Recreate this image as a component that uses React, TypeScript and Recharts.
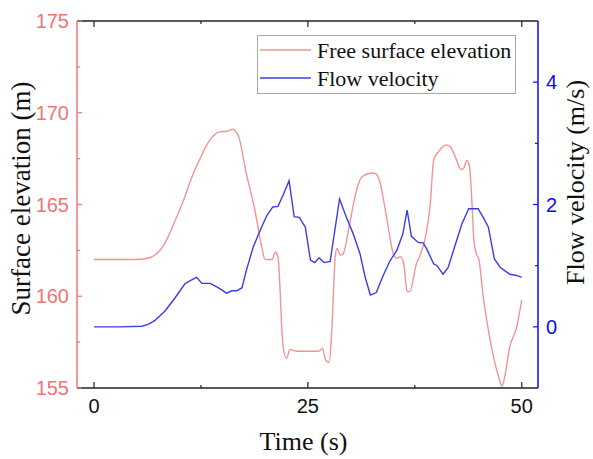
import { LineChart, Line, XAxis, YAxis, Legend, Label } from 'recharts'

const elevTime = [
  0, 2, 4, 5.5, 6.5, 7.5, 8.3, 9.5, 10.6, 11.2, 11.8, 12.4, 13.0, 13.6, 14.2, 14.8, 15.5, 16.2, 16.9,
  17.8, 18.8, 19.6, 20.0, 20.8, 21.2, 21.5, 22.1, 22.5, 22.9, 23.7, 26.2, 26.7, 27.1, 27.5, 27.8,
  28.2, 28.4, 28.8, 29.1, 29.9, 30.7, 31.3, 32.3, 32.8, 33.4, 34.2, 35.0, 35.4, 35.8, 36.2, 36.6,
  36.9, 37.7, 38.1, 38.9, 39.3, 39.7, 40.3, 41.2, 41.8, 42.4, 42.9, 43.2, 43.6, 43.9, 44.2, 44.4,
  44.7, 45.0, 45.5, 46.1, 46.7, 47.3, 47.7, 48.0, 48.6, 49.4, 50.0,
]
const elevValue = [
  162.0, 162.0, 162.0, 162.02, 162.1, 162.4, 162.9, 164.15, 165.4, 166.2, 166.9, 167.5, 168.1,
  168.55, 168.85, 168.97, 168.98, 169.1, 168.7, 166.7, 164.7, 162.7, 162.0, 162.0, 162.4, 162.15,
  157.25, 156.6, 157.1, 157.0, 157.0, 157.15, 156.5, 156.4, 158.2, 162.15, 162.6, 162.25, 162.3,
  164.0, 165.8, 166.5, 166.7, 166.7, 166.25, 164.3, 162.3, 162.07, 162.15, 161.8, 160.25, 160.25,
  161.8, 162.2, 163.6, 165.0, 167.4, 167.9, 168.25, 168.06, 167.4, 166.9, 166.97, 167.4, 167.06,
  164.9, 163.07, 162.3, 161.98, 159.98, 158.16, 156.7, 155.6, 155.1, 155.6, 157.25, 158.3, 159.8,
]

const velTime = [
  0, 3, 5.6, 6.3, 7.1, 8.3, 9.5, 10.6, 11.3, 12.0, 12.6, 13.6, 14.5, 15.5, 16.1, 16.7, 17.3, 17.8,
  18.6, 19.4, 20.2, 20.9, 21.5, 22.1, 22.8, 23.4, 24.0, 24.7, 25.3, 25.8, 26.3, 26.9, 27.6, 28.7,
  29.5, 30.3, 31.1, 31.7, 32.3, 33.0, 33.8, 34.6, 35.4, 36.1, 36.6, 37.1, 37.9, 38.5, 38.9, 39.7,
  40.1, 40.8, 41.4, 42.2, 43.0, 43.8, 44.9, 45.5, 46.1, 46.8, 47.5, 48.6, 49.4, 50.0,
]
const velValue = [
  0, 0, 0.01, 0.04, 0.1, 0.26, 0.48, 0.7, 0.76, 0.81, 0.71, 0.71, 0.64, 0.55, 0.59, 0.59, 0.64,
  0.92, 1.3, 1.57, 1.82, 1.96, 1.97, 2.15, 2.39, 1.8, 1.79, 1.63, 1.09, 1.05, 1.13, 1.05, 1.07,
  2.09, 1.79, 1.52, 1.19, 0.81, 0.52, 0.56, 0.84, 1.08, 1.25, 1.52, 1.91, 1.48, 1.38, 1.37, 1.27,
  1.03, 1.0, 0.86, 0.97, 1.33, 1.68, 1.93, 1.93, 1.79, 1.63, 1.11, 0.97, 0.86, 0.84, 0.81,
]

const seriesNames = ['Free surface elevation', 'Flow velocity']
const timeTicks = [0, 12.5, 25, 37.5, 50]
const elevTicks = [155, 157.5, 160, 162.5, 165, 167.5, 170, 172.5, 175]
const velTicks = [0, 1, 2, 3, 4]

const elevData = elevTime.map((t, i) => ({ t, v: elevValue[i] }))
const velData = velTime.map((t, i) => ({ t, v: velValue[i] }))

const RED = '#f07575'
const RED_LINE = '#f29494'
const BLUE = '#0a0aff'
const BLUE_LINE = '#3c3ce6'
const SANS = '"Liberation Sans", Arial, sans-serif'
const SERIF = '"Liberation Serif", "Times New Roman", serif'

function BottomTick({ x, y, payload }: any) {
  const major = payload.value % 25 === 0
  return (
    <g>
      <line x1={x} x2={x} y1={y} y2={y - (major ? 6 : 3)} stroke="#222" strokeWidth={1.2} />
      {major && (
        <text x={x} y={y + 25} textAnchor="middle" fill="#111" fontSize={20} fontFamily={SANS}>
          {payload.value}
        </text>
      )}
    </g>
  )
}

function TopTick({ x, y, payload }: any) {
  const major = payload.value % 25 === 0
  return <line x1={x} x2={x} y1={y} y2={y + (major ? 6 : 3)} stroke="#222" strokeWidth={1.2} />
}

function LeftTick({ x, y, payload }: any) {
  const major = payload.value % 5 === 0
  return (
    <g>
      <line x1={x} x2={x + (major ? 5 : 3)} y1={y} y2={y} stroke={RED} strokeWidth={1.2} />
      {major && (
        <text x={x - 8} y={y + 7} textAnchor="end" fill={RED} fontSize={20} fontFamily={SANS}>
          {payload.value}
        </text>
      )}
    </g>
  )
}

function RightTick({ x, y, payload }: any) {
  const major = payload.value % 2 === 0
  return (
    <g>
      <line x1={x} x2={x - (major ? 5 : 3)} y1={y} y2={y} stroke={BLUE} strokeWidth={1.2} />
      {major && (
        <text x={x + 8} y={y + 7} textAnchor="start" fill={BLUE} fontSize={20} fontFamily={SANS}>
          {payload.value}
        </text>
      )}
    </g>
  )
}

function renderLegend({ payload }: any) {
  const items = [...(payload ?? [])].sort(
    (a: any, b: any) => seriesNames.indexOf(a.value) - seriesNames.indexOf(b.value),
  )
  return (
    <div style={{ width: 257, height: 57, border: '1px solid #a8a8a8', background: '#fff' }}>
      <svg width={257} height={57}>
        {items.map((e: any, i: number) => (
          <g key={e.value}>
            <line x1={2} x2={53} y1={14 + i * 28} y2={14 + i * 28} stroke={e.color} strokeWidth={1.3} />
            <text x={59} y={22 + i * 28} fontSize={22} fontFamily={SERIF} fill="#111">
              {e.value}
            </text>
          </g>
        ))}
      </svg>
    </div>
  )
}

export default function App() {
  return (
    <div style={{ position: 'absolute', left: 0, top: 0, background: '#fff' }}>
      <LineChart width={593} height={459} margin={{ top: 0, right: 0, bottom: 0, left: 0 }}>
        <XAxis
          xAxisId="bottom"
          dataKey="t"
          type="number"
          domain={[-1.99, 51.9]}
          ticks={timeTicks}
          interval={0}
          allowDataOverflow
          height={71}
          tickSize={0}
          tickMargin={0}
          tickLine={false}
          tick={<BottomTick />}
          axisLine={{ stroke: '#222', strokeWidth: 1.5 }}
        >
          <Label
            content={({ viewBox }: any) => (
              <text
                x={viewBox.x + viewBox.width / 2 - 4}
                y={viewBox.y + 62}
                textAnchor="middle"
                fontSize={26}
                fontFamily={SERIF}
                fill="#111"
              >
                Time (s)
              </text>
            )}
          />
        </XAxis>
        <XAxis
          xAxisId="top"
          orientation="top"
          dataKey="t"
          type="number"
          domain={[-1.99, 51.9]}
          ticks={timeTicks}
          interval={0}
          allowDataOverflow
          height={21}
          tickSize={0}
          tickMargin={0}
          tickLine={false}
          tick={<TopTick />}
          axisLine={{ stroke: '#222', strokeWidth: 1.5 }}
        />
        <YAxis
          yAxisId="left"
          type="number"
          domain={[155, 175]}
          ticks={elevTicks}
          interval={0}
          allowDataOverflow
          width={77}
          tickSize={0}
          tickMargin={0}
          tickLine={false}
          tick={<LeftTick />}
          axisLine={{ stroke: RED, strokeWidth: 1.5 }}
        >
          <Label
            content={({ viewBox }: any) => {
              const cx = viewBox.x + 30
              const cy = viewBox.y + viewBox.height / 2 - 6
              return (
                <text
                  x={cx}
                  y={cy}
                  transform={`rotate(-90 ${cx} ${cy})`}
                  textAnchor="middle"
                  fontSize={27}
                  fontFamily={SERIF}
                  fill="#111"
                >
                  Surface elevation (m)
                </text>
              )
            }}
          />
        </YAxis>
        <YAxis
          yAxisId="right"
          orientation="right"
          type="number"
          domain={[-1, 5]}
          ticks={velTicks}
          interval={0}
          allowDataOverflow
          width={55}
          tickSize={0}
          tickMargin={0}
          tickLine={false}
          tick={<RightTick />}
          axisLine={{ stroke: BLUE, strokeWidth: 1.5 }}
        >
          <Label
            content={({ viewBox }: any) => {
              const cx = viewBox.x + 46
              const cy = viewBox.y + viewBox.height / 2 - 22
              return (
                <text
                  x={cx}
                  y={cy}
                  transform={`rotate(-90 ${cx} ${cy})`}
                  textAnchor="middle"
                  fontSize={26}
                  fontFamily={SERIF}
                  fill="#111"
                >
                  Flow velocity (m/s)
                </text>
              )
            }}
          />
        </YAxis>
        <Legend
          layout="vertical"
          align="center"
          verticalAlign="middle"
          content={renderLegend}
          wrapperStyle={{ left: 257, top: 35, width: 259, height: 59 }}
        />
        <Line
          name="Free surface elevation"
          data={elevData}
          dataKey="v"
          xAxisId="bottom"
          yAxisId="left"
          type="monotone"
          stroke={RED_LINE}
          strokeWidth={1.4}
          dot={false}
          isAnimationActive={false}
        />
        <Line
          name="Flow velocity"
          data={velData}
          dataKey="v"
          xAxisId="bottom"
          yAxisId="right"
          type="linear"
          stroke={BLUE_LINE}
          strokeWidth={1.4}
          dot={false}
          isAnimationActive={false}
        />
      </LineChart>
    </div>
  )
}
